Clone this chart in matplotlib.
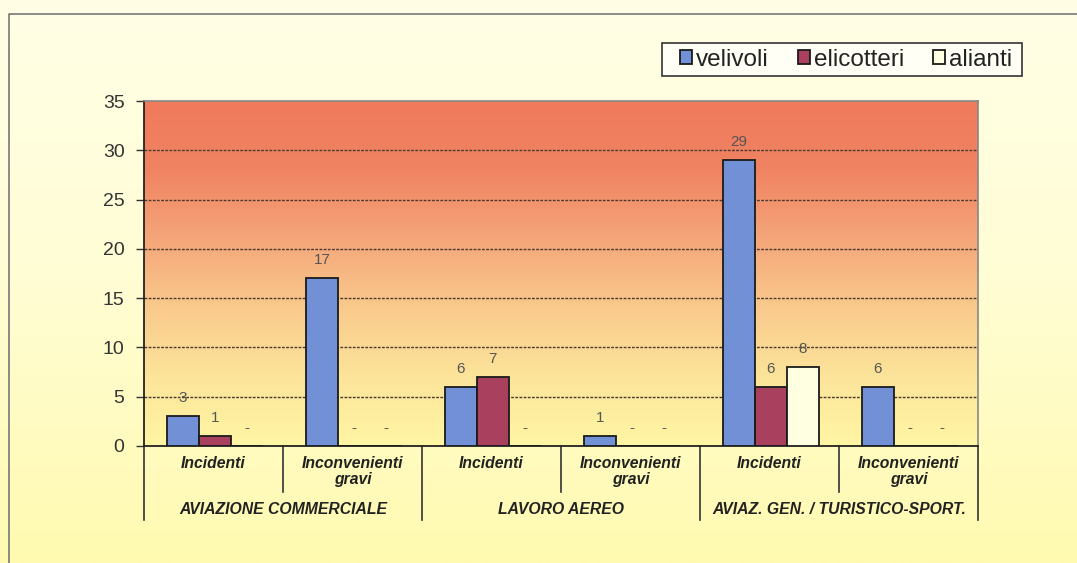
import numpy as np
import matplotlib
matplotlib.use("Agg")
import matplotlib.pyplot as plt
from matplotlib.colors import LinearSegmentedColormap
from matplotlib.patches import Rectangle

plt.rcParams['font.family'] = ['Liberation Sans', 'DejaVu Sans']

# Dati: incidenti e inconvenienti gravi per tipo di aeromobile
gruppi = ["AVIAZIONE COMMERCIALE", "LAVORO AEREO", "AVIAZ. GEN. / TURISTICO-SPORT."]
sottocategorie = ["Incidenti", "Inconvenienti\ngravi"] * 3
serie = ["velivoli", "elicotteri", "alianti"]
velivoli = [3, 17, 6, 1, 29, 6]
elicotteri = [1, 0, 7, 0, 6, 0]
alianti = [0, 0, 0, 0, 8, 0]
yticks = [0, 5, 10, 15, 20, 25, 30, 35]

colori = ["#7290D6", "#A8405E", "#FFFFE2"]

W, H = 1077, 563
fig = plt.figure(figsize=(W / 100, H / 100), dpi=100)

# sfondo della figura (crema che tende al giallo in basso)
bg = fig.add_axes([0, 0, 1, 1], zorder=-10)
bg_cmap = LinearSegmentedColormap.from_list("bg", ["#FFFAB0", "#FFFDD4", "#FFFFE6"])
bg.imshow(np.linspace(0, 1, 256).reshape(-1, 1), cmap=bg_cmap, aspect="auto",
          extent=[0, 1, 0, 1], origin="lower")
bg.plot([9 / W, 9 / W, 1.0], [0, 1 - 14 / H, 1 - 14 / H], color="#777777", lw=1.2)
# riquadro della legenda
bg.add_patch(Rectangle((662 / W, 1 - 76 / H), 360 / W, 33 / H, facecolor="#FFFFF6",
                       edgecolor="#333333", lw=1.2))
bg.set_xlim(0, 1)
bg.set_ylim(0, 1)
bg.axis("off")

x0, x1 = 144, 978
y0, y1 = 446, 101
ax = fig.add_axes([x0 / W, 1 - y0 / H, (x1 - x0) / W, (y0 - y1) / H])
ax.set_xlim(0, 6)
ax.set_ylim(0, 35)

# gradiente dell'area del grafico
plot_cmap = LinearSegmentedColormap.from_list(
    "plot", ["#FFF6A4", "#FCE49A", "#F9CA8C", "#F5A67A", "#F08462", "#EF7A5C"])
ax.imshow(np.linspace(0, 1, 256).reshape(-1, 1), cmap=plot_cmap, aspect="auto",
          extent=[0, 6, 0, 35], origin="lower", zorder=0)

for y in yticks[1:-1]:
    ax.axhline(y, color="#4A3A30", lw=1.0, ls=(0, (2, 1)), zorder=1)

larg = 0.23
pos = np.arange(6) + 0.51
for k, (vals, col) in enumerate(zip([velivoli, elicotteri, alianti], colori)):
    xs = pos + (k - 1) * larg
    ax.bar(xs, vals, width=larg, color=col, edgecolor="#1A1A1A", lw=1.3,
           label=serie[k], zorder=3)
    for xv, v in zip(xs, vals):
        ax.annotate(str(v) if v else "-", xy=(xv, v), xytext=(0, 13),
                    textcoords="offset points", ha="center", va="center",
                    fontsize=11, color="#555555", zorder=4)

ax.set_yticks(yticks)
ax.set_yticklabels([str(t) for t in yticks], fontsize=14, color="#333333")
ax.tick_params(axis="y", length=6, width=1, color="#333333", pad=8)
ax.set_xticks([])
for s in ["top", "right"]:
    ax.spines[s].set_color("#888888")
    ax.spines[s].set_linewidth(1.2)
ax.spines["left"].set_color("#222222")
ax.spines["bottom"].set_color("#222222")
ax.spines["left"].set_linewidth(1.3)
ax.spines["bottom"].set_linewidth(1.3)

# etichette a due livelli sotto l'asse
h = y0 - y1
tr = ax.get_xaxis_transform()
for i, lab in enumerate(sottocategorie):
    ax.text(i + 0.5, -(456 - y0) / h, lab, transform=tr, ha="center", va="top",
            fontsize=11.3, fontweight="bold", style="italic", color="#222222",
            linespacing=1.1)
for i in [1, 3, 5]:
    ax.plot([i, i], [0, -(492 - y0) / h], transform=tr, color="#333333",
            lw=1.2, clip_on=False)
for i in [0, 2, 4, 6]:
    ax.plot([i, i], [0, -(520 - y0) / h], transform=tr, color="#333333",
            lw=1.2, clip_on=False)
for j, g in enumerate(gruppi):
    ax.text(2 * j + 1, -(510 - y0) / h, g, transform=tr, ha="center",
            va="center", fontsize=11.3, fontweight="bold", style="italic",
            color="#222222")

leg = fig.legend(loc="center right", bbox_to_anchor=(1012 / W, 1 - 59.5 / H),
                 ncol=3, fontsize=17.5, frameon=False,
                 handlelength=0.5, handleheight=0.5, handletextpad=0.15,
                 columnspacing=1.2, borderpad=0, borderaxespad=0)
for t in leg.get_texts():
    t.set_color("#222222")

fig.savefig("out.png", dpi=100)
